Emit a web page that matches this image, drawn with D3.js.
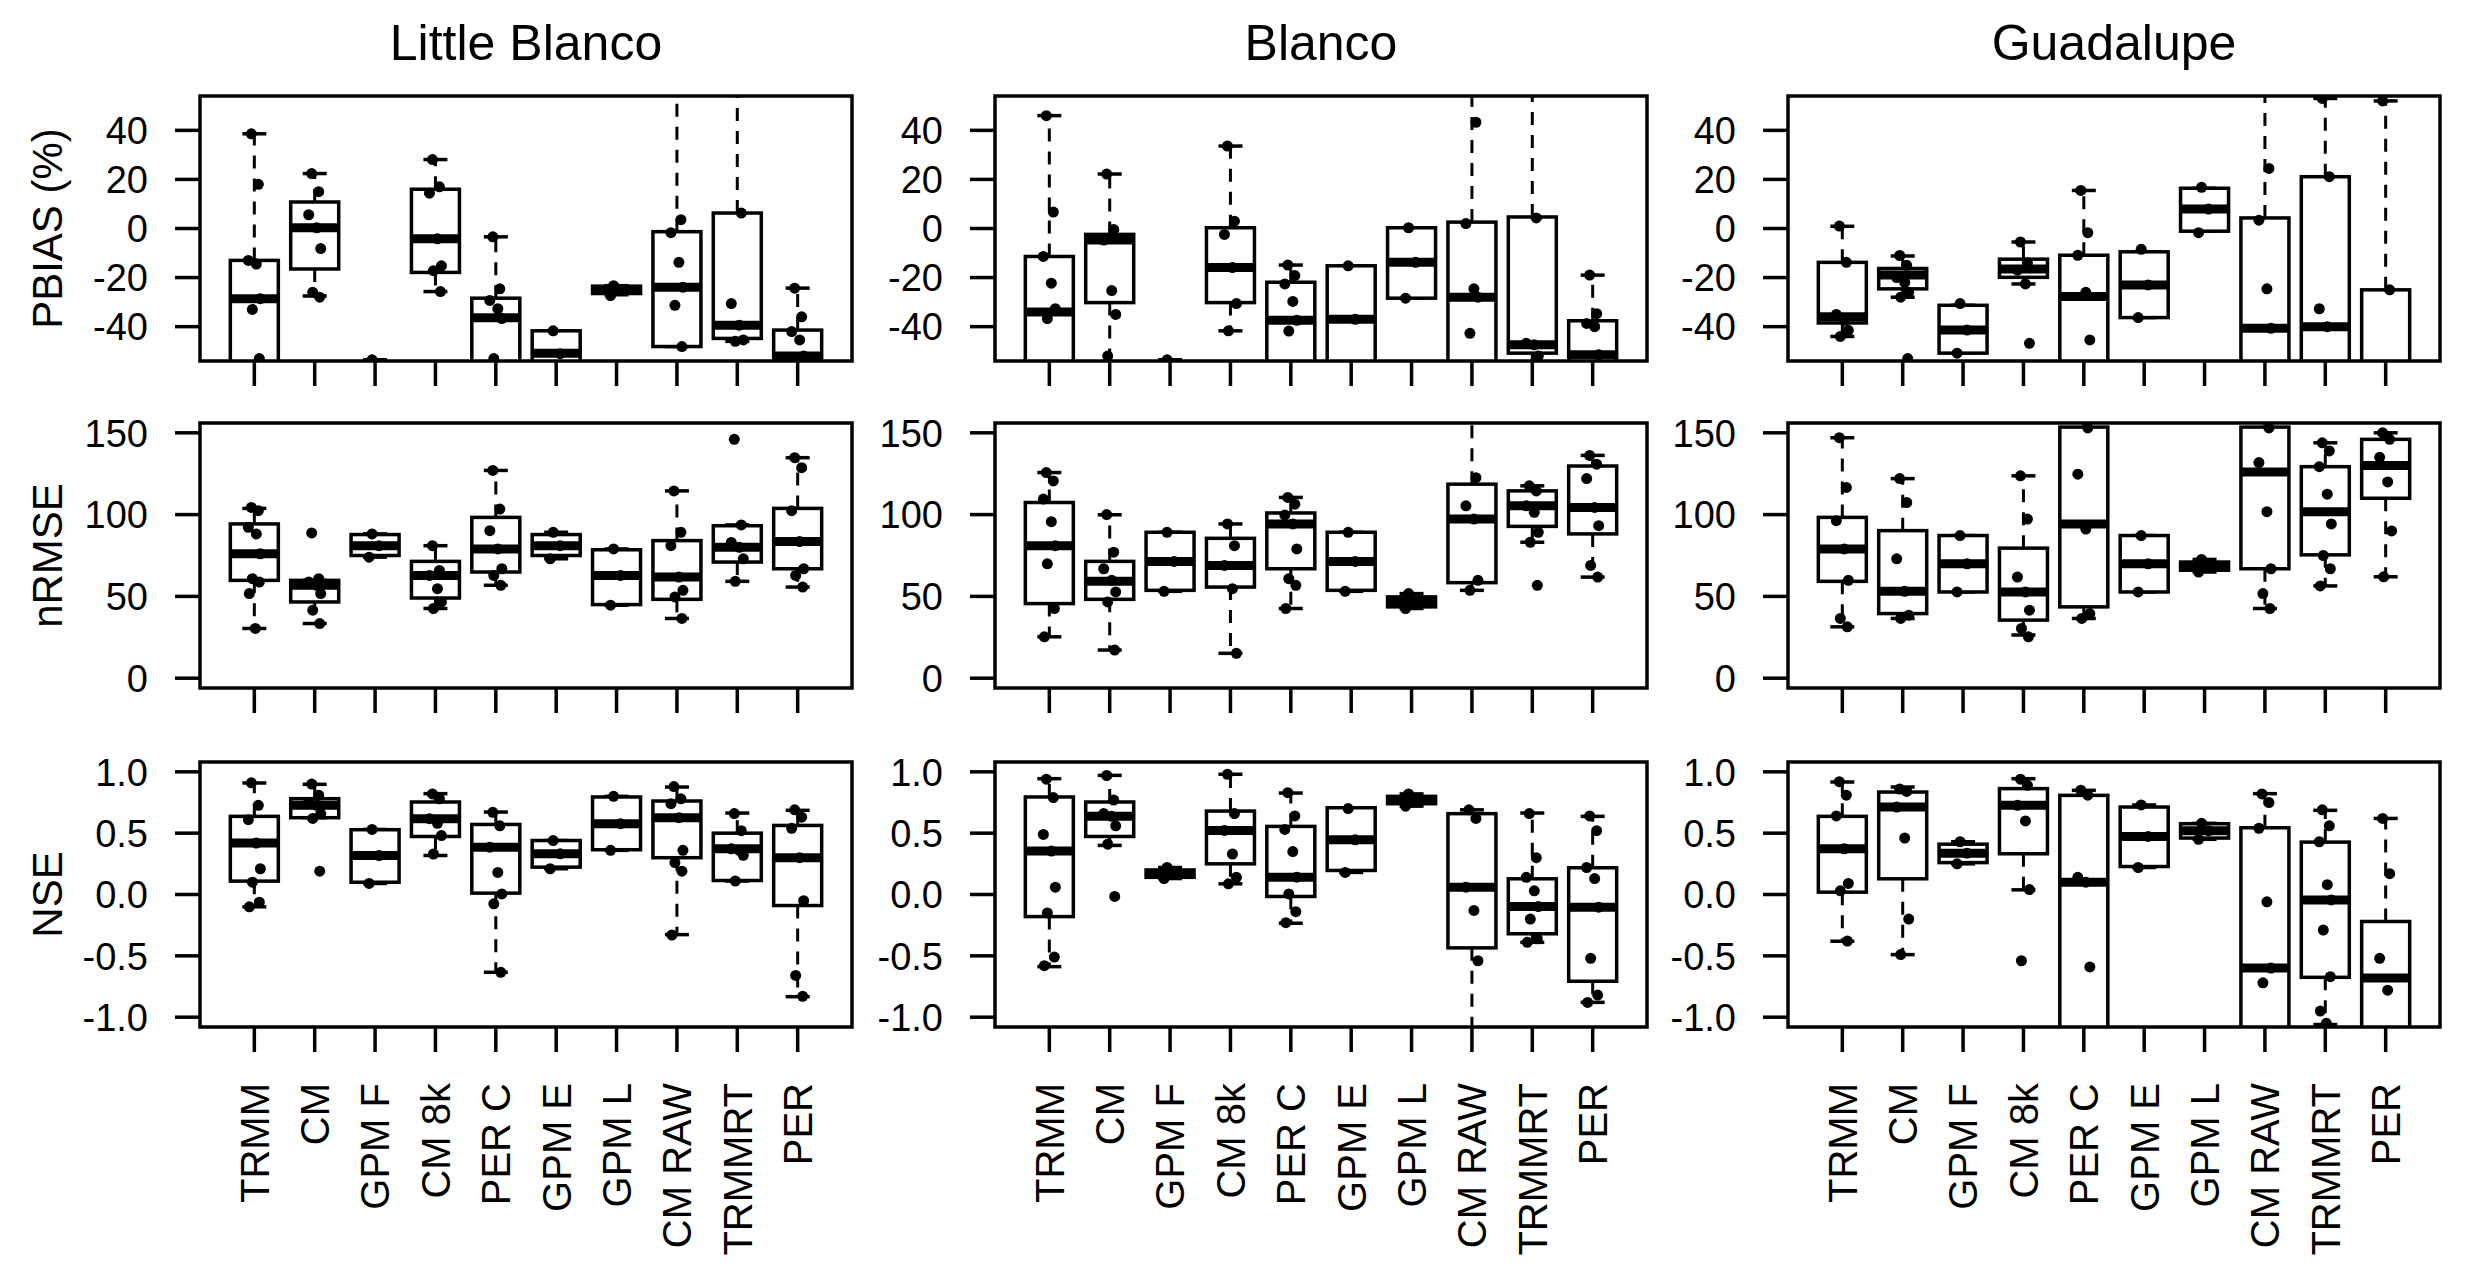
<!DOCTYPE html>
<html>
<head>
<meta charset="utf-8">
<script src="https://cdn.jsdelivr.net/npm/d3@7"></script>
<style>
  body { margin: 0; background: #fff; }
  text { font-family: "Liberation Sans", Arial, sans-serif; fill: #000; }
</style>
</head>
<body>
<div id="chart"></div>
<script>
(function () {
  'use strict';

  // categories / labels
  var sites = ["Little Blanco", "Blanco", "Guadalupe"];
  var products = ["TRMM", "CM", "GPM F", "CM 8k", "PER C", "GPM E", "GPM L", "CM RAW", "TRMMRT", "PER"];
  var metrics = ["PBIAS (%)", "nRMSE", "NSE"];

  var pbiasTicks = [-40, -20, 0, 20, 40];
  var nrmseTicks = [0, 50, 100, 150];
  var nseTicks = [-1, -0.5, 0, 0.5, 1];

  ///////////////////////////////////////////////
  // box stats per product: [lower whisker, q1, median, q3, upper whisker]
  ///////////////////////////////////////////////

  var pbiasLittleBlanco = [
    [-70, -60, -28.6, -13, 38.6], [-27.5, -16.5, 0.3, 10.8, 22.4], [-75, -68, -62, -57, -53.5],
    [-25.7, -17.9, -4.2, 16, 28.1], [-62, -58, -36.4, -28.4, -3.4], [-60, -58, -50.8, -41.7, -41.7],
    [-27, -26.5, -25, -23.5, -23.3], [-48.1, -48.1, -23.9, -1.3, 80], [-46, -44.8, -39.4, 6.3, 90],
    [-60, -58, -52, -41.4, -24.3]
  ];
  var pbiasBlanco = [
    [-65, -60, -34, -11.4, 46], [-55, -30.2, -4.7, -2.4, 22.2], [-75, -68, -62, -57, -53.5],
    [-41.7, -30.2, -15.9, 0.3, 33.6], [-62, -58, -37.4, -21.9, -14.9], [-60, -58, -37, -15.2, -15.2],
    [-28.4, -28.4, -13.8, 0.3, 0.3], [-62, -58, -28, 2.6, 90], [-55, -50.8, -47.4, 4.7, 90],
    [-62, -58, -51.5, -37.6, -19]
  ];
  var pbiasGuadalupe = [
    [-44, -38.5, -36, -13.8, 0.9], [-28, -24.6, -19, -16.3, -11.2], [-50.8, -50.8, -41.4, -31.3, -31.3],
    [-22.6, -19.9, -16.5, -12.5, -5.5], [-62, -58, -27.7, -10.9, 15.5], [-36.3, -36.3, -23, -9.5, -9.5],
    [-1.1, -1.1, 7.9, 16.4, 16.4], [-62, -56, -40.7, 4.3, 90], [-62, -58, -40, 21.1, 53],
    [-70, -65, -60, -25, 52]
  ];

  var nrmseLittleBlanco = [
    [30.4, 59.8, 76, 94.3, 103.8], [33.4, 46.6, 56.8, 59.8, 59.8], [74, 75, 81, 87.8, 88.2],
    [42.6, 49, 62.8, 71.4, 81], [56.8, 64.9, 79, 98.3, 127], [73, 75, 81, 87.8, 89.2],
    [44.6, 45, 62.8, 78.5, 79], [36.5, 48.2, 61.8, 84.1, 114.5], [59.2, 71, 80, 93.2, 93.7],
    [55.7, 66.9, 83.5, 103.8, 134.8]
  ];
  var nrmseBlanco = [
    [25.3, 45.6, 81, 107.4, 125.7], [17.2, 48.2, 59.2, 71.4, 99.9], [53.1, 53.7, 71.4, 89.2, 89.2],
    [15.2, 55.7, 68.9, 85.5, 94.3], [42.6, 66.9, 94.3, 101, 110.5], [53.1, 53.7, 71.4, 89.2, 89.2],
    [42.6, 43.6, 46.6, 49.7, 51.7], [53.7, 58.4, 97.3, 118.6, 170], [83.1, 92.8, 105.4, 114.5, 117.6],
    [61.8, 88.2, 104.4, 129.7, 136.2]
  ];
  var nrmseGuadalupe = [
    [31.4, 59.2, 79, 98.3, 147], [36.5, 39.5, 53.1, 90.2, 122], [52.7, 52.7, 69.9, 87.2, 87.2],
    [26.4, 35.5, 52.7, 79.5, 123.7], [36.5, 43.6, 94.3, 153.5, 180], [52.7, 52.7, 69.9, 87.2, 87.2],
    [64.9, 66, 68.5, 71, 72.6], [42.6, 66.9, 126, 153.5, 180], [56.4, 75.4, 101.8, 129.3, 143.9],
    [62, 110, 130, 146, 150]
  ];

  var nseLittleBlanco = [
    [-0.1, 0.109, 0.419, 0.637, 0.909], [0.626, 0.626, 0.727, 0.781, 0.898], [0.09, 0.1, 0.318, 0.528, 0.53],
    [0.318, 0.473, 0.618, 0.754, 0.822], [-0.634, 0.011, 0.386, 0.571, 0.672], [0.21, 0.223, 0.332, 0.44, 0.44],
    [0.36, 0.365, 0.577, 0.795, 0.8], [-0.327, 0.3, 0.626, 0.762, 0.876], [0.11, 0.114, 0.373, 0.5, 0.664],
    [-0.833, -0.09, 0.3, 0.563, 0.686]
  ];
  var nseBlanco = [
    [-0.588, -0.18, 0.354, 0.795, 0.944], [0.4, 0.473, 0.637, 0.754, 0.971], [0.13, 0.14, 0.169, 0.2, 0.22],
    [0.087, 0.25, 0.522, 0.68, 0.98], [-0.234, -0.016, 0.141, 0.555, 0.827], [0.18, 0.196, 0.446, 0.707, 0.707],
    [0.72, 0.74, 0.773, 0.8, 0.82], [-1.2, -0.435, 0.06, 0.659, 0.69], [-0.39, -0.32, -0.098, 0.128, 0.664],
    [-0.879, -0.707, -0.103, 0.218, 0.637]
  ];
  var nseGuadalupe = [
    [-0.381, 0.019, 0.373, 0.637, 0.917], [-0.49, 0.128, 0.713, 0.835, 0.876], [0.25, 0.26, 0.337, 0.41, 0.43],
    [0.038, 0.332, 0.727, 0.863, 0.944], [-1.3, -1.2, 0.1, 0.808, 0.849], [0.22, 0.228, 0.473, 0.713, 0.73],
    [0.45, 0.46, 0.52, 0.577, 0.58], [-1.3, -1.2, -0.6, 0.544, 0.822], [-1.06, -0.675, -0.044, 0.427, 0.686],
    [-1.3, -1.2, -0.68, -0.22, 0.62]
  ];

  ///////////////////////////////////////////////
  // individual values drawn over the boxes
  ///////////////////////////////////////////////

  var pbiasLittleBlancoPts = [
    [38.6, 18, -13, -14.5, -28.6, -33, -53, -60], [22.4, 15, 5.6, 0.3, -8.2, -26, -28], [-53.5, -62, -70],
    [28.1, 17, 14.4, -4.2, -15.2, -17.2, -25.7], [-3.4, -24.6, -29.3, -32.7, -36.7, -53, -60], [-41.7, -51, -60],
    [-23.3, -25, -27.3], [80, 3.6, -1.7, -13.8, -23.9, -31.3, -48.1], [90, 6.3, -30.6, -39.4, -45.4, -46],
    [-24.3, -36, -42, -45.4, -52, -60]
  ];
  var pbiasBlancoPts = [
    [46, 6.7, -11.4, -22.3, -32.7, -36.7, -60], [22.2, -0.4, -4.7, -25.3, -35, -52], [-53.5, -62, -70],
    [33.6, 3, -2.4, -15.9, -30.6, -41.7], [-14.9, -19.2, -22.6, -29.7, -37.4, -41.8, -60], [-15.2, -37, -60],
    [0.3, -13.8, -28.4], [90, 43.3, 2, -24.6, -28, -42.7, -60], [90, 4.3, -46.8, -47.4, -52],
    [-19, -34.7, -38.7, -40, -51.5, -60]
  ];
  var pbiasGuadalupePts = [
    [1, -13.8, -35, -37.4, -41.5, -44], [-11, -15, -20, -22, -26, -28, -53], [-30.6, -41.4, -50.8],
    [-5.5, -14, -17, -22.6, -46.8], [15.5, -1.7, -10.9, -26, -45.4, -60], [-8.5, -23, -36.3],
    [16.8, 7.9, -1.7], [90, 24.5, 3.4, -24.6, -40.7, -60], [53, 21.1, -32.7, -40, -60],
    [52, -25, -60, -70]
  ];

  var nrmseLittleBlancoPts = [
    [104.4, 102.4, 92.2, 88.2, 76, 60.8, 58.8, 51.7, 30.4], [88.8, 60.8, 58.8, 56.8, 51.7, 41.6, 33.4], [88.2, 81, 74],
    [81, 65.9, 62.8, 54.7, 46.6, 42.6], [127, 103.4, 90.2, 79, 66.9, 62.8, 56.8], [89.2, 81, 73],
    [79, 62.8, 44.6], [114.5, 89.2, 81, 61.8, 53.7, 49.7, 36.5], [146, 93.7, 83, 80, 73, 59.2],
    [134.8, 128.7, 102.4, 83.5, 66.9, 62.8, 55.7]
  ];
  var nrmseBlancoPts = [
    [125.7, 120.6, 109.5, 95.7, 81, 69.9, 42.6, 25.3], [100, 77, 66.9, 59.8, 52.7, 46.6, 17.2], [89.2, 71.4, 53.1],
    [94.3, 81, 68.9, 54.7, 15.2], [110.5, 106.4, 99.7, 94.3, 79, 60.8, 56.8, 42.6], [89.2, 71.4, 53.1],
    [51.7, 46.6, 42.6], [170, 122.6, 105.4, 97.3, 59.8, 53.7], [117.6, 114.5, 105.4, 101.4, 89.2, 83.1, 56.8],
    [136.2, 130.8, 122, 104.4, 93.2, 68.9, 61.8]
  ];
  var nrmseGuadalupePts = [
    [147, 116.6, 96.3, 79, 59.8, 36.5, 31.4], [122, 107.4, 73, 53.1, 38.5, 36.5], [87.2, 69.9, 52.7],
    [123.7, 97.3, 61.8, 52.7, 41.6, 30.4, 25.3], [180, 153, 124.7, 91.2, 39.5, 36.5], [87.2, 69.9, 52.7],
    [72.6, 68.5, 64.9], [180, 153, 131.8, 101.8, 66.9, 51.7, 42.6], [143.9, 138.9, 129.3, 112.5, 94.3, 75, 66.9, 56.4],
    [150, 146, 135, 120, 90, 62]
  ];

  var nseLittleBlancoPts = [
    [0.91, 0.727, 0.61, 0.419, 0.21, 0.1, -0.063, -0.1], [0.9, 0.81, 0.75, 0.727, 0.66, 0.62, 0.19], [0.53, 0.318, 0.09],
    [0.82, 0.78, 0.618, 0.58, 0.48, 0.33], [0.67, 0.56, 0.386, 0.18, 0.005, -0.076, -0.634], [0.44, 0.332, 0.21],
    [0.8, 0.577, 0.36], [0.88, 0.78, 0.74, 0.626, 0.36, 0.26, 0.19, -0.33], [0.66, 0.52, 0.373, 0.36, 0.32, 0.11],
    [0.69, 0.63, 0.54, 0.3, -0.05, -0.66, -0.83]
  ];
  var nseBlancoPts = [
    [0.94, 0.79, 0.49, 0.354, 0.06, -0.15, -0.51, -0.58], [0.97, 0.77, 0.66, 0.637, 0.56, 0.41, -0.016], [0.22, 0.169, 0.13],
    [0.98, 0.66, 0.522, 0.33, 0.14, 0.087], [0.83, 0.64, 0.53, 0.35, 0.141, 0.005, -0.14, -0.23], [0.7, 0.446, 0.18],
    [0.82, 0.773, 0.72], [0.69, 0.62, 0.06, -0.13, -0.54, -1.2], [0.66, 0.3, 0.14, 0.03, -0.098, -0.2, -0.36, -0.39],
    [0.64, 0.52, 0.22, 0.13, -0.103, -0.52, -0.82, -0.88]
  ];
  var nseGuadalupePts = [
    [0.92, 0.81, 0.64, 0.373, 0.09, 0.03, -0.38], [0.86, 0.84, 0.713, 0.46, -0.2, -0.49], [0.43, 0.337, 0.25],
    [0.94, 0.89, 0.727, 0.6, 0.04, -0.54], [0.85, 0.81, 0.14, 0.1, -0.59, -1.2], [0.73, 0.473, 0.22],
    [0.58, 0.52, 0.45], [0.82, 0.75, 0.54, -0.06, -0.6, -0.72, -1.2], [0.69, 0.56, 0.43, 0.08, -0.044, -0.29, -0.67, -0.95, -1.05],
    [0.62, 0.17, -0.52, -0.78, -1.2]
  ];

  // grid of panels: rows = metrics, cols = sites
  var boxStats = [
    [pbiasLittleBlanco, pbiasBlanco, pbiasGuadalupe],
    [nrmseLittleBlanco, nrmseBlanco, nrmseGuadalupe],
    [nseLittleBlanco, nseBlanco, nseGuadalupe]
  ];
  var pointSets = [
    [pbiasLittleBlancoPts, pbiasBlancoPts, pbiasGuadalupePts],
    [nrmseLittleBlancoPts, nrmseBlancoPts, nrmseGuadalupePts],
    [nseLittleBlancoPts, nseBlancoPts, nseGuadalupePts]
  ];
  var rowTicks = [pbiasTicks, nrmseTicks, nseTicks];
  var rowLimits = [[-50, 50], [0, 150], [-1, 1]];

  ///////////////////////////////////////////////
  // layout
  ///////////////////////////////////////////////

  var width = 2467, height = 1273;
  var colLeft = [200, 995, 1788];
  var rowTop = [96, 423, 762];
  var panelW = 652, panelH = 265;
  var boxW = 48;
  var jitter = [-3, 4, -6, 2, 6, -2, 5, -5, 1]; // fixed horizontal offsets for the dots

  var svg = d3.select("#chart").append("svg")
      .attr("width", width)
      .attr("height", height);

  svg.append("rect").attr("width", width).attr("height", height).attr("fill", "#fff");

  var x = d3.scalePoint().domain(products).range([0, panelW]).padding(0.9);

  function tickText(r, d) {
    if (r == 2) { return d.toFixed(1); }
    return String(d);
  }

  rowTop.forEach(function (top, r) {
    var lim = rowLimits[r];
    var pad = (lim[1] - lim[0]) * 0.04;
    var y = d3.scaleLinear().domain([lim[0] - pad, lim[1] + pad]).range([panelH, 0]);

    colLeft.forEach(function (left, c) {
      var g = svg.append("g").attr("transform", "translate(" + left + "," + top + ")");
      var clipId = "clip-" + r + "-" + c;

      g.append("clipPath").attr("id", clipId)
        .append("rect").attr("width", panelW).attr("height", panelH);

      var plot = g.append("g").attr("clip-path", "url(#" + clipId + ")");
      var stats = boxStats[r][c];

      var grp = plot.selectAll(".bx")
          .data(stats)
          .enter().append("g")
            .attr("class", "bx")
            .attr("transform", function (d, i) { return "translate(" + x(products[i]) + ",0)"; });

      // whiskers (dashed)
      grp.append("line")
        .attr("x1", 0).attr("x2", 0)
        .attr("y1", function (d) { return y(d[3]); })
        .attr("y2", function (d) { return y(d[4]); })
        .attr("stroke", "#000").attr("stroke-width", 3).attr("stroke-dasharray", "13,10");
      grp.append("line")
        .attr("x1", 0).attr("x2", 0)
        .attr("y1", function (d) { return y(d[1]); })
        .attr("y2", function (d) { return y(d[0]); })
        .attr("stroke", "#000").attr("stroke-width", 3).attr("stroke-dasharray", "13,10");

      // staples
      [0, 4].forEach(function (k) {
        grp.append("line")
          .attr("x1", -boxW / 4).attr("x2", boxW / 4)
          .attr("y1", function (d) { return y(d[k]); })
          .attr("y2", function (d) { return y(d[k]); })
          .attr("stroke", "#000").attr("stroke-width", 3.5);
      });

      // box
      grp.append("rect")
        .attr("x", -boxW / 2)
        .attr("width", boxW)
        .attr("y", function (d) { return y(d[3]); })
        .attr("height", function (d) { return y(d[1]) - y(d[3]); })
        .attr("fill", "#fff")
        .attr("stroke", "#000").attr("stroke-width", 3.5);

      // median
      grp.append("line")
        .attr("x1", -boxW / 2).attr("x2", boxW / 2)
        .attr("y1", function (d) { return y(d[2]); })
        .attr("y2", function (d) { return y(d[2]); })
        .attr("stroke", "#000").attr("stroke-width", 9);

      // dots
      var pts = pointSets[r][c];
      pts.forEach(function (vals, i) {
        plot.selectAll(".pt" + i)
          .data(vals)
          .enter().append("circle")
            .attr("cx", function (d, j) { return x(products[i]) + jitter[j % jitter.length]; })
            .attr("cy", function (d) { return y(d); })
            .attr("r", 5.5)
            .attr("fill", "#000");
      });

      // frame
      g.append("rect")
        .attr("width", panelW).attr("height", panelH)
        .attr("fill", "none").attr("stroke", "#000").attr("stroke-width", 3.5);

      // y axis
      var ticks = rowTicks[r];
      g.selectAll(".ytick").data(ticks).enter().append("line")
        .attr("x1", -25).attr("x2", 0)
        .attr("y1", function (d) { return y(d); })
        .attr("y2", function (d) { return y(d); })
        .attr("stroke", "#000").attr("stroke-width", 3.5);
      g.selectAll(".ylab").data(ticks).enter().append("text")
        .attr("x", -52)
        .attr("y", function (d) { return y(d); })
        .attr("dy", "0.36em")
        .attr("text-anchor", "end")
        .style("font-size", "38px")
        .text(function (d) { return tickText(r, d); });

      // x ticks
      g.selectAll(".xtick").data(products).enter().append("line")
        .attr("x1", function (d) { return x(d); })
        .attr("x2", function (d) { return x(d); })
        .attr("y1", panelH).attr("y2", panelH + 25)
        .attr("stroke", "#000").attr("stroke-width", 3.5);

      if (r == 2) {
        g.selectAll(".xlab").data(products).enter().append("text")
          .attr("transform", function (d) {
            return "translate(" + x(d) + "," + (panelH + 56) + ") rotate(-90)";
          })
          .attr("dy", "0.36em")
          .attr("text-anchor", "end")
          .style("font-size", "40px")
          .text(function (d) { return d; });
      }

      if (r == 0) {
        g.append("text")
          .attr("x", panelW / 2).attr("y", 60 - top)
          .attr("text-anchor", "middle")
          .style("font-size", "50px")
          .text(sites[c]);
      }

      if (c == 0) {
        g.append("text")
          .attr("transform", "translate(" + (62 - left) + "," + (panelH / 2) + ") rotate(-90)")
          .attr("text-anchor", "middle")
          .style("font-size", "42px")
          .text(metrics[r]);
      }
    });
  });

}());
</script>
</body>
</html>
